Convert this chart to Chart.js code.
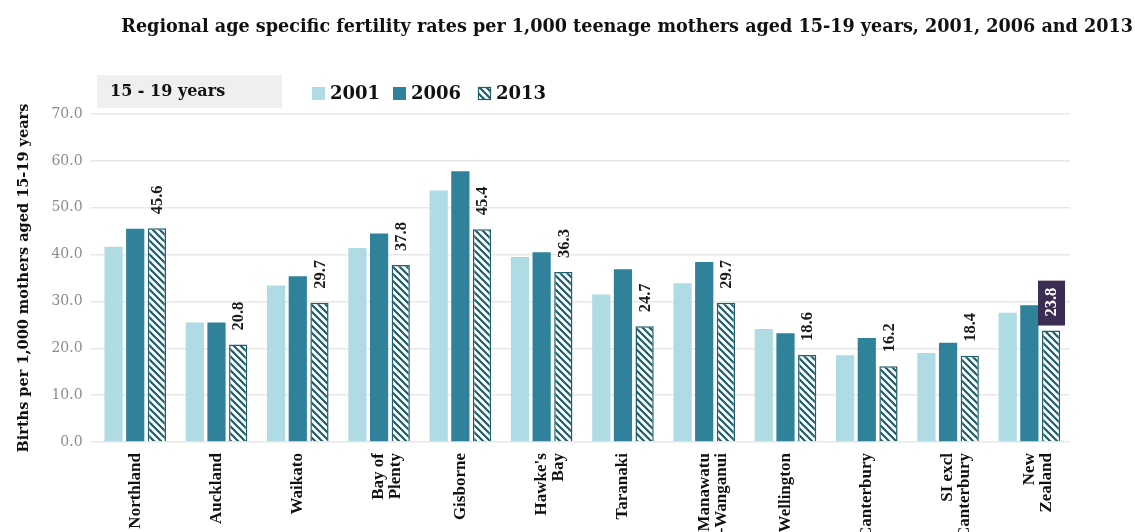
<!DOCTYPE html>
<html>
<head>
<meta charset="utf-8">
<script src="https://cdn.jsdelivr.net/npm/chart.js@4.4.0/dist/chart.umd.min.js"></script>
<style>
  html, body { margin: 0; padding: 0; background: #fff; overflow: hidden; }
  #wrap { position: relative; width: 1135px; height: 532px; overflow: hidden; }
</style>
</head>
<body>
<div id="wrap"><canvas id="fertChart" width="1135" height="542"></canvas></div>
<script>
const regions = [
    'Northland',
    'Auckland',
    'Waikato',
    ['Bay of', 'Plenty'],
    'Gisborne',
    ["Hawke's", 'Bay'],
    'Taranaki',
    ['Manawatu', '-Wanganui'],
    'Wellington',
    'Canterbury',
    ['SI excl', 'Canterbury'],
    ['New', 'Zealand']
]
const rates2001 = [41.7, 25.5, 33.4, 41.4, 53.7, 39.5, 31.5, 33.9, 24.1, 18.5, 19.0, 27.6]
const rates2006 = [45.5, 25.5, 35.4, 44.5, 57.8, 40.5, 36.9, 38.4, 23.2, 22.2, 21.2, 29.2]
const rates2013 = [45.6, 20.8, 29.7, 37.8, 45.4, 36.3, 24.7, 29.7, 18.6, 16.2, 18.4, 23.8]
const seriesNames = ['2001', '2006', '2013']
const yTicks = [0, 10, 20, 30, 40, 50, 60, 70]

const titleText = 'Regional age specific fertility rates per 1,000 teenage mothers aged 15-19 years, 2001, 2006 and 2013'
const serif = "'DejaVu Serif', serif"
const timesFont = "'Liberation Serif', 'Times New Roman', serif"

// hatch for the 2013 bars
function makeHatch() {
    const c = document.createElement('canvas')
    c.width = 7; c.height = 7
    const g = c.getContext('2d')
    g.fillStyle = '#ffffff'
    g.fillRect(0, 0, 7, 7)
    g.strokeStyle = '#1d5e6b'
    g.lineWidth = 2.2
    g.beginPath()
    g.moveTo(-1, -1); g.lineTo(8, 8)
    g.moveTo(-1, 6); g.lineTo(1, 8)
    g.moveTo(6, -1); g.lineTo(8, 1)
    g.stroke()
    return g.createPattern(c, 'repeat')
}
const hatch = makeHatch()

const headerPlugin = {
    id: 'header',
    afterDraw(chart) {
        const ctx = chart.ctx
        ctx.save()
        // title
        ctx.fillStyle = '#111'
        ctx.font = 'bold 17.6px ' + serif
        ctx.textBaseline = 'middle'
        ctx.textAlign = 'right'
        ctx.fillText(titleText, 1133, 27)
        // grey box
        ctx.fillStyle = '#efefef'
        ctx.fillRect(97, 75, 185, 33)
        ctx.fillStyle = '#111'
        ctx.textAlign = 'left'
        ctx.font = 'bold 16px ' + serif
        ctx.fillText('15 - 19 years', 110, 92)
        // legend
        const fills = ['#afdbe5', '#2f8299', hatch]
        const xs = [312, 393, 478]
        ctx.font = 'bold 18px ' + serif
        for (let i = 0; i < 3; i++) {
            ctx.fillStyle = fills[i]
            ctx.fillRect(xs[i], 87, 13, 13)
            if (i === 2) {
                ctx.strokeStyle = '#1d5e6b'
                ctx.lineWidth = 1.2
                ctx.strokeRect(xs[i] + 0.5, 87.5, 12, 12)
            }
            ctx.fillStyle = '#111'
            ctx.fillText(seriesNames[i], xs[i] + 18, 94)
        }
        // value labels on the 2013 bars
        const meta = chart.getDatasetMeta(2)
        meta.data.forEach((bar, i) => {
            const txt = rates2013[i].toFixed(1)
            ctx.save()
            ctx.translate(bar.x + 1, bar.y - 14)
            ctx.rotate(-Math.PI / 2)
            ctx.font = 'bold 16.5px ' + timesFont
            ctx.textAlign = 'left'
            ctx.textBaseline = 'middle'
            if (i === rates2013.length - 1) {
                const w = ctx.measureText(txt).width
                ctx.fillStyle = '#3b2d52'
                ctx.fillRect(-9, -14, w + 16, 27)
                ctx.fillStyle = '#ffffff'
            } else {
                ctx.fillStyle = '#1a1a1a'
            }
            ctx.fillText(txt, 0, 0)
            ctx.restore()
        })
        ctx.restore()
    }
}

const ctx = document.getElementById('fertChart').getContext('2d')
const fertChart = new Chart(ctx, {
    type: 'bar',
    data: {
        labels: regions,
        datasets: [{
            label: seriesNames[0],
            data: rates2001,
            backgroundColor: '#afdbe5'
        }, {
            label: seriesNames[1],
            data: rates2006,
            backgroundColor: '#2f8299'
        }, {
            label: seriesNames[2],
            data: rates2013,
            backgroundColor: hatch,
            borderColor: '#1d5e6b',
            borderWidth: 1.5
        }]
    },
    options: {
        responsive: false,
        animation: false,
        datasets: {
            bar: {
                categoryPercentage: 0.8,
                barPercentage: 0.84
            }
        },
        layout: {
            padding: { top: 114, right: 65, left: 12, bottom: 0 }
        },
        plugins: {
            legend: { display: false },
            title: { display: false },
            tooltip: { enabled: false }
        },
        scales: {
            x: {
                grid: { display: false },
                border: { display: false },
                ticks: {
                    color: '#111',
                    maxRotation: 90,
                    minRotation: 90,
                    autoSkip: false,
                    font: { family: timesFont, size: 17, weight: 'bold', lineHeight: 1.0 }
                }
            },
            y: {
                min: 0,
                max: 70,
                afterBuildTicks: axis => {
                    axis.ticks = yTicks.map(v => ({ value: v }))
                },
                grid: { color: '#e8e8e8', lineWidth: 1.5, drawTicks: true, tickLength: 4 },
                border: { display: false },
                ticks: {
                    color: '#8c8c8c',
                    padding: 8,
                    font: { family: serif, size: 14 },
                    callback: v => Number(v).toFixed(1)
                },
                title: {
                    display: true,
                    text: 'Births per 1,000 mothers aged 15-19 years',
                    color: '#111',
                    font: { family: serif, size: 14.5, weight: 'bold' },
                    padding: { bottom: 10 }
                }
            }
        }
    },
    plugins: [headerPlugin]
})
</script>
</body>
</html>
